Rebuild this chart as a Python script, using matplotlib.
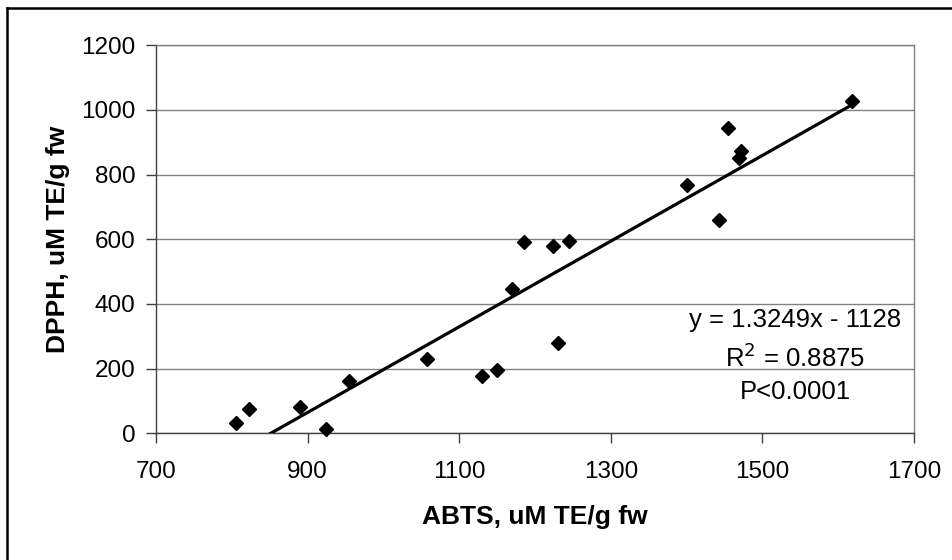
import numpy as np
import matplotlib
matplotlib.use("Agg")
import matplotlib.pyplot as plt
from matplotlib.lines import Line2D

plt.rcParams['font.family'] = ['Liberation Sans', 'DejaVu Sans']

# datos
abts = [805, 823, 890, 924, 955, 1058, 1130, 1150, 1169, 1185,
        1224, 1230, 1245, 1401, 1443, 1454, 1469, 1472, 1618]
dpph = [31, 74, 80, 12, 162, 229, 178, 197, 446, 593,
        579, 278, 594, 767, 661, 945, 851, 874, 1028]

pendiente = 1.3249
intercepto = -1128
textos = ["y = 1.3249x - 1128", "R$^2$ = 0.8875", "P<0.0001"]

fig = plt.figure(figsize=(9.53, 5.6), dpi=100)
ax = fig.add_axes([156 / 953, 1 - 433.3 / 560, 758 / 953, 388 / 560])

ax.set_xlim(700, 1700)
ax.set_ylim(0, 1200)
ax.set_xticks(np.arange(700, 1701, 200))
ax.set_yticks(np.arange(0, 1201, 200))
ax.grid(axis='y', color='#808080', linewidth=1.0)
ax.set_axisbelow(True)

for lado in ['top', 'right']:
    ax.spines[lado].set_color('#808080')
    ax.spines[lado].set_linewidth(1.0)
for lado in ['left', 'bottom']:
    ax.spines[lado].set_color('#404040')
    ax.spines[lado].set_linewidth(1.0)

ax.tick_params(axis='both', direction='out', length=7, width=1, color='#404040',
               labelsize=17.5)
ax.tick_params(axis='x', pad=13)
ax.tick_params(axis='y', pad=8)

# linea de tendencia
xs = np.array([min(abts), max(abts)])
ax.plot(xs, pendiente * xs + intercepto, color='black', linewidth=2.3, zorder=3)

ax.plot(abts, dpph, linestyle='none', marker='D', markersize=7,
        color='black', zorder=4, clip_on=False)

ax.set_xlabel("ABTS, uM TE/g fw", fontsize=19, fontweight='bold', labelpad=16)
ax.set_ylabel("DPPH, uM TE/g fw", fontsize=19, fontweight='bold', labelpad=8)

for t, yv in zip(textos, [350, 233, 128]):
    ax.text(1543, yv, t, ha='center', va='center', fontsize=18.5)

# marco exterior (solo arriba e izquierda visibles)
fig.add_artist(Line2D([7 / 953, 7 / 953], [0, 1 - 8 / 560], color='black', linewidth=1.8))
fig.add_artist(Line2D([7 / 953, 1], [1 - 8 / 560, 1 - 8 / 560], color='black', linewidth=1.8))

fig.savefig("out.png", dpi=100)
